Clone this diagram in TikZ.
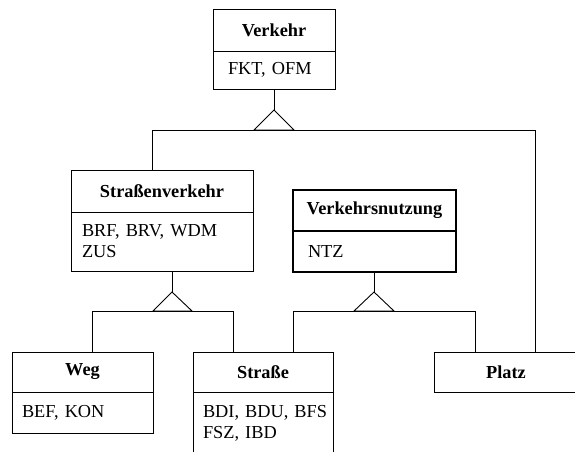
\documentclass[tikz,border=0pt]{standalone}
\usepackage{fontspec}
\setmainfont{Liberation Serif}
\begin{document}
\begin{tikzpicture}[x=1pt,y=-1pt,
  every node/.style={font=\fontsize{18.3}{21}\selectfont},
  line/.style={line width=0.9pt},
  head/.style={draw,line width=0.9pt,rectangle,inner sep=0pt,anchor=center,font=\fontsize{18.3}{21}\selectfont\bfseries},
  body/.style={draw,line width=0.9pt,rectangle,inner ysep=0pt,anchor=center,align=left},
  thickbox/.style={line width=2.6pt}]
\useasboundingbox (0,0) rectangle (575,451);
\clip (0,0) rectangle (575,451);
% Verkehr
\node[head,minimum width=122pt,minimum height=42pt] (vkh) at (274,30) {Verkehr};
\node[body,inner xsep=15pt,text width=92pt,minimum height=38pt] (vkb) at (274,70) {\mbox{FKT, OFM}};
% Strassenverkehr
\node[head,minimum width=182pt,minimum height=42pt] (svh) at (162,191) {Straßenverkehr};
\node[body,inner xsep=11pt,text width=160pt,minimum height=59pt] (svb) at (162,241.5) {\mbox{BRF, BRV, WDM}\\\mbox{ZUS}};
% Verkehrsnutzung
\node[head,thickbox,minimum width=163pt,minimum height=41pt] (vnh) at (374.5,210.5) {Verkehrsnutzung};
\node[body,thickbox,inner xsep=15pt,text width=133pt,minimum height=41pt] (vnb) at (374.5,251.5) {\mbox{NTZ}};
% Weg
\node[head,minimum width=141pt,minimum height=40pt] (wgh) at (82.5,372) {Weg};
\node[body,inner xsep=10pt,text width=121pt,minimum height=41pt] (wgb) at (82.5,412.5) {\mbox{BEF, KON}};
% Strasse
\node[head,minimum width=140pt,minimum height=40pt] (sth) at (263,372) {Straße};
\node[body,inner xsep=10pt,text width=120pt,minimum height=62pt] (stb) at (263,423) {\mbox{BDI, BDU, BFS}\\\mbox{FSZ, IBD}};
% Platz
\node[head,minimum width=144pt,minimum height=40pt] (plz) at (506,372) {Platz};
% generalisation 1 (Verkehr)
\coordinate (t1) at (274,110);
\coordinate (t1l) at (254,130);
\coordinate (t1r) at (294,130);
\coordinate (h1l) at (152,130);
\coordinate (h1r) at (535,130);
\draw[line] (vkb.south -| t1) -- (t1);
\draw[line] (t1) -- (t1l) -- (t1r) -- cycle;
\draw[line] (svh.north -| h1l) -- (h1l) -- (h1r) -- (plz.north -| h1r);
% generalisation 2 (Strassenverkehr)
\coordinate (t2) at (172,292);
\coordinate (t2l) at (153,311);
\coordinate (t2r) at (192,311);
\coordinate (h2l) at (92,311);
\coordinate (h2r) at (233,311);
\draw[line] (svb.south -| t2) -- (t2);
\draw[line] (t2) -- (t2l) -- (t2r) -- cycle;
\draw[line] (wgh.north -| h2l) -- (h2l) -- (h2r) -- (sth.north -| h2r);
% generalisation 3 (Verkehrsnutzung)
\coordinate (t3) at (374,292);
\coordinate (t3l) at (354,311);
\coordinate (t3r) at (394,311);
\coordinate (h3l) at (293,311);
\coordinate (h3r) at (475,311);
\draw[line] (vnb.south -| t3) -- (t3);
\draw[line] (t3) -- (t3l) -- (t3r) -- cycle;
\draw[line] (sth.north -| h3l) -- (h3l) -- (h3r) -- (plz.north -| h3r);
\end{tikzpicture}
\end{document}
